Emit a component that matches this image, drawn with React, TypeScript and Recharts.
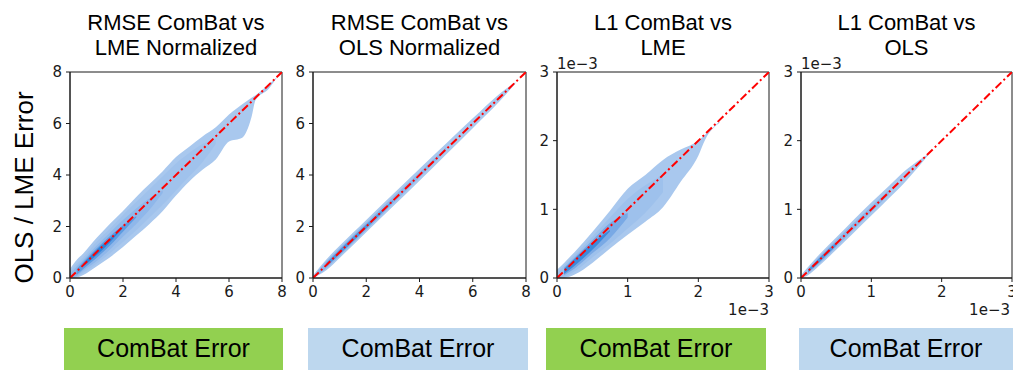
import React from 'react';
import { ComposedChart, Area, Line, XAxis, YAxis, ReferenceArea } from 'recharts';

type Range = [number, number] | null;

// RMSE: ComBat vs LME normalized
const rmseLmeX = [0, 0.25, 0.5, 1, 1.5, 2, 2.5, 3, 3.5, 4, 4.5, 5, 5.5, 6, 6.5, 6.85, 7, 7.5, 7.8, 8];
const rmseLmeOuter: Range[] = [[0, 0.35], [0.02, 0.7], [0.12, 0.95], [0.45, 1.55], [0.8, 2.1], [1.2, 2.6], [1.65, 3.15], [2.1, 3.65], [2.6, 4.15], [3.2, 4.7], [3.75, 5.1], [4.2, 5.5], [4.6, 5.85], [5.3, 6.35], [5.45, 6.75], [6.25, 7.0], [6.9, 7.1], [7.35, 7.52], [7.78, 7.8], null];
const rmseLmeMid: Range[] = [[0, 0.25], [0.05, 0.55], [0.2, 0.8], [0.55, 1.4], [0.95, 1.9], [1.4, 2.45], [1.85, 2.95], [2.35, 3.45], [2.85, 3.95], [3.4, 4.45], [3.95, 4.85], [4.5, 5.2], [5.2, 5.4], null, null, null, null, null, null, null];
const rmseLmeInner: Range[] = [[0, 0.15], [0.08, 0.45], [0.28, 0.7], [0.65, 1.25], [1.1, 1.75], [1.6, 2.25], [2.1, 2.7], [2.65, 3.1], [3.3, 3.4], null, null, null, null, null, null, null, null, null, null, null];
const rmseLmeCore: Range[] = [null, [0.12, 0.35], [0.35, 0.62], [0.78, 1.15], [1.25, 1.62], [1.8, 2.05], [2.35, 2.4], null, null, null, null, null, null, null, null, null, null, null, null, null];
const rmseLmePeak: Range[] = [null, null, [0.45, 0.55], [0.88, 1.08], [1.38, 1.52], [1.95, 1.98], null, null, null, null, null, null, null, null, null, null, null, null, null, null];

// RMSE: ComBat vs OLS normalized
const rmseOlsX = [0, 0.5, 1, 2, 3, 4, 5, 6, 7, 7.6, 8];
const rmseOlsOuter: Range[] = [[0, 0.1], [0.3, 0.72], [0.78, 1.25], [1.78, 2.25], [2.78, 3.25], [3.78, 4.24], [4.8, 5.22], [5.82, 6.2], [6.85, 7.15], [7.55, 7.6], null];
const rmseOlsMid: Range[] = [[0, 0.05], [0.38, 0.64], [0.86, 1.16], [1.86, 2.15], [2.88, 3.14], [3.9, 4.1], [4.95, 5.08], null, null, null, null];
const rmseOlsCore: Range[] = [null, [0.44, 0.58], [0.92, 1.1], [1.92, 2.08], [2.96, 3.02], null, null, null, null, null, null];

// L1 (x 1e-3): ComBat vs LME
const l1LmeX = [0, 0.1, 0.25, 0.5, 0.75, 1, 1.25, 1.5, 1.75, 2, 2.1, 2.3, 3];
const l1LmeOuter: Range[] = [[0, 0.12], [0, 0.22], [0.05, 0.38], [0.22, 0.67], [0.43, 0.98], [0.63, 1.3], [0.82, 1.5], [1.03, 1.72], [1.4, 1.87], [1.78, 2.0], [2.02, 2.09], [2.26, 2.28], null];
const l1LmeMid: Range[] = [[0, 0.07], [0.02, 0.18], [0.1, 0.33], [0.3, 0.6], [0.5, 0.88], [0.72, 1.15], [0.95, 1.35], [1.25, 1.5], null, null, null, null, null];
const l1LmeInner: Range[] = [null, [0.04, 0.15], [0.14, 0.3], [0.36, 0.55], [0.58, 0.8], [0.88, 0.95], null, null, null, null, null, null, null];
const l1LmeCore: Range[] = [null, [0.06, 0.13], [0.18, 0.28], [0.41, 0.51], [0.68, 0.7], null, null, null, null, null, null, null, null];

// L1 (x 1e-3): ComBat vs OLS
const l1OlsX = [0, 0.1, 0.25, 0.5, 0.75, 1, 1.25, 1.5, 1.8, 3];
const l1OlsOuter: Range[] = [[0, 0.04], [0.04, 0.16], [0.17, 0.33], [0.41, 0.59], [0.66, 0.85], [0.91, 1.1], [1.16, 1.34], [1.42, 1.58], [1.78, 1.8], null];
const l1OlsMid: Range[] = [null, [0.07, 0.13], [0.2, 0.3], [0.45, 0.55], [0.71, 0.8], [0.96, 1.04], [1.22, 1.28], null, null, null];
const l1OlsCore: Range[] = [null, [0.08, 0.12], [0.22, 0.28], [0.47, 0.52], null, null, null, null, null, null];

const rmseTicks = [0, 2, 4, 6, 8];
const l1Ticks = [0, 1, 2, 3];

const titles = [
  ['RMSE ComBat vs', 'LME Normalized'],
  ['RMSE ComBat vs', 'OLS Normalized'],
  ['L1 ComBat vs', 'LME'],
  ['L1 ComBat vs', 'OLS'],
];
const boxLabel = 'ComBat Error';
const yLabel = 'OLS / LME Error';
const offsetLabel = '1e\u22123';

const PLOT_TOP = 72;
const PLOT_BOTTOM = 278;
const Y_AXIS_W = 60;
const CHART_H = 310;

const SANS = "'Liberation Sans', Arial, sans-serif";
const TICK_FONT = "'DejaVu Sans', sans-serif";
const TICK_SIZE = 15;

// KDE fill levels, lightest (outer) first
const palette5 = ['#a9c8ee', '#a0c2ec', '#8fb7ea', '#5f9de2', '#2d82d8'];
const palette4 = ['#a9c8ee', '#9ec1ec', '#79a9e5', '#3d8adb'];
const palette3 = ['#a9c8ee', '#8db6ea', '#4f93dd'];

const panels = [
  { left: 70, width: 212, xs: rmseLmeX, bands: [rmseLmeOuter, rmseLmeMid, rmseLmeInner, rmseLmeCore, rmseLmePeak], colors: palette5, ticks: rmseTicks, offset: false, box: '#92d050', boxX: 64, boxW: 219 },
  { left: 313, width: 213, xs: rmseOlsX, bands: [rmseOlsOuter, rmseOlsMid, rmseOlsCore], colors: palette3, ticks: rmseTicks, offset: false, box: '#bdd7ee', boxX: 308, boxW: 220 },
  { left: 557, width: 212, xs: l1LmeX, bands: [l1LmeOuter, l1LmeMid, l1LmeInner, l1LmeCore], colors: palette4, ticks: l1Ticks, offset: true, box: '#92d050', boxX: 546, boxW: 220 },
  { left: 801, width: 211, xs: l1OlsX, bands: [l1OlsOuter, l1OlsMid, l1OlsCore], colors: palette3, ticks: l1Ticks, offset: true, box: '#bdd7ee', boxX: 799, boxW: 214 },
];

const tickStyle = { fontSize: TICK_SIZE, fill: '#1a1a1a', fontFamily: TICK_FONT };

function Panel({ left, width, xs, bands, colors, ticks }: any) {
  const max = ticks[ticks.length - 1];
  const rows = xs.map((x: number, i: number) => {
    const row: any = { x, diag: i === 0 || i === xs.length - 1 ? x : null };
    bands.forEach((b: Range[], j: number) => {
      row['b' + j] = b[i];
    });
    return row;
  });

  return (
    <div style={{ position: 'absolute', left: left - Y_AXIS_W, top: 0 }}>
      <ComposedChart
        width={Y_AXIS_W + width + 20}
        height={CHART_H}
        data={rows}
        margin={{ top: PLOT_TOP, right: 20, bottom: 0, left: 0 }}
      >
        <XAxis
          type="number"
          dataKey="x"
          domain={[0, max]}
          ticks={ticks}
          height={CHART_H - PLOT_BOTTOM}
          tickSize={4}
          tickMargin={4}
          tick={tickStyle}
          stroke="#1a1a1a"
          allowDataOverflow
        />
        <YAxis
          type="number"
          domain={[0, max]}
          ticks={ticks}
          width={Y_AXIS_W}
          tickSize={4}
          tickMargin={4}
          tick={tickStyle}
          stroke="#1a1a1a"
          allowDataOverflow
        />
        {bands.map((_: Range[], j: number) => (
          <Area
            key={j}
            dataKey={'b' + j}
            type="monotone"
            fill={colors[j]}
            fillOpacity={1}
            stroke="none"
            activeDot={false}
            isAnimationActive={false}
          />
        ))}
        <ReferenceArea x1={0} x2={max} y1={0} y2={max} fill="none" fillOpacity={0} stroke="#1a1a1a" strokeWidth={1} />
        <Line
          dataKey="diag"
          connectNulls
          stroke="#ff0000"
          strokeWidth={2}
          strokeDasharray="8 3 2 3"
          dot={false}
          activeDot={false}
          isAnimationActive={false}
        />
      </ComposedChart>
    </div>
  );
}

export default function App() {
  return (
    <div style={{ position: 'absolute', left: 0, top: 0, width: 1013, height: 370, background: '#fff', overflow: 'hidden' }}>
      {panels.map((p, i) => (
        <Panel key={i} {...p} />
      ))}
      <svg width={1013} height={370} style={{ position: 'absolute', left: 0, top: 0, pointerEvents: 'none' }}>
        {panels.map((p, i) => {
          const cx = p.left + p.width / 2;
          return (
            <g key={i}>
              <text x={cx} y={30} textAnchor="middle" style={{ fontFamily: SANS, fontSize: 22 }} fill="#000">
                {titles[i][0]}
              </text>
              <text x={cx} y={55} textAnchor="middle" style={{ fontFamily: SANS, fontSize: 22 }} fill="#000">
                {titles[i][1]}
              </text>
              {p.offset && (
                <>
                  <text x={p.left} y={69} style={{ fontFamily: TICK_FONT, fontSize: TICK_SIZE }} fill="#1a1a1a">
                    {offsetLabel}
                  </text>
                  <text x={Math.min(p.left + p.width, 1010)} y={315} textAnchor="end" style={{ fontFamily: TICK_FONT, fontSize: TICK_SIZE }} fill="#1a1a1a">
                    {offsetLabel}
                  </text>
                </>
              )}
              <rect x={p.boxX} y={328} width={p.boxW} height={50} fill={p.box} />
              <text x={p.boxX + p.boxW / 2} y={357} textAnchor="middle" style={{ fontFamily: SANS, fontSize: 25 }} fill="#000">
                {boxLabel}
              </text>
            </g>
          );
        })}
        <text transform="translate(33,187.5) rotate(-90)" textAnchor="middle" style={{ fontFamily: SANS, fontSize: 26 }} fill="#000">
          {yLabel}
        </text>
      </svg>
    </div>
  );
}
